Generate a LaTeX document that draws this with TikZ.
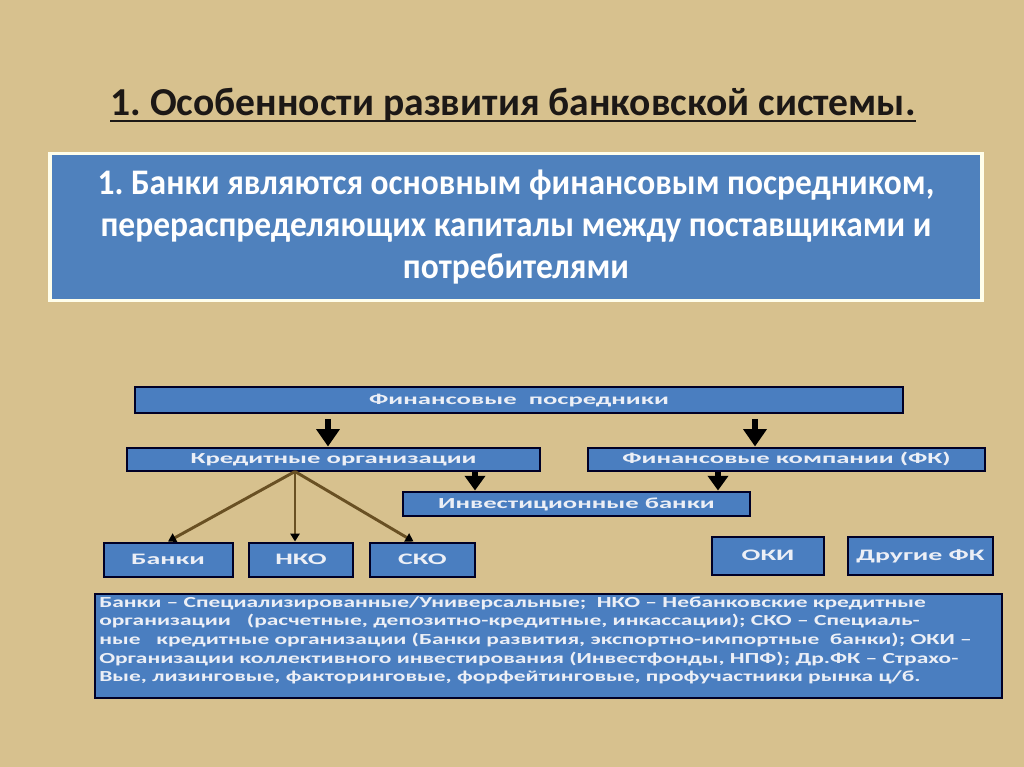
\documentclass[tikz,border=0pt]{standalone}
\usepackage{fontspec}
\setmainfont{Carlito}
\newfontfamily\narrowfont[FakeStretch=0.93]{Carlito}
\newfontfamily\diagfont[FakeStretch=1.74]{Carlito}
\newfontfamily\notefont[FakeStretch=1.53]{Carlito}
\usetikzlibrary{arrows.meta,calc}
\definecolor{bg}{RGB}{215,193,142}
\definecolor{topblue}{RGB}{79,129,189}
\definecolor{dblue}{RGB}{74,126,192}
\definecolor{titlecol}{RGB}{28,24,22}
\definecolor{fanbrown}{RGB}{105,80,35}
\definecolor{ltext}{RGB}{236,239,246}
\newdimen\px \px=0.75pt
\frenchspacing
\begin{document}
\begin{tikzpicture}[x=0.75pt,y=-0.75pt,
  dbox/.style={draw=black!85!blue, fill=dblue, line width=1.5pt, text=ltext,
    inner sep=0pt, text height=0.7em, text depth=0pt,
    font=\diagfont\bfseries\fontsize{11.5}{13}\selectfont},
  sbox/.style={dbox, font=\diagfont\bfseries\fontsize{12}{15}\selectfont},
  bigarrow/.style={draw=black, line width=4.5pt, -{Triangle[width=17pt,length=13pt]}},
  fanarrow/.style={draw=fanbrown, line width=2.2pt, -{Triangle[width=7pt,length=6pt,fill=black,color=black]}}
]
\fill[bg] (0,0) rectangle (1024,767);
\useasboundingbox (0,0) rectangle (1024,767);

% title
\node[font=\bfseries\fontsize{29.7}{34}\selectfont, text=titlecol, anchor=base, inner sep=0pt]
  (title) at (513,115) {1. Особенности развития банковской системы.};
\draw[titlecol, line width=1.6pt] ($(title.base west)+(0,6)$) -- ($(title.base east)+(0,6)$);

% main statement box
\node[fill=topblue, draw=white!92!yellow, line width=2.5pt, minimum width=932\px,
  minimum height=147\px, inner sep=0pt, text=white, align=flush center,
  font=\narrowfont\bfseries\fontsize{27}{31.5}\selectfont] (main) at (516,227)
  {1. Банки являются основным финансовым посредником,\\
   перераспределяющих капиталы между поставщиками и\\
   потребителями};

% diagram boxes
\node[dbox, minimum width=768\px, minimum height=26\px] (fp) at (519,399.5) {Финансовые\ \ посредники};
\node[dbox, minimum width=413\px, minimum height=23\px] (ko) at (333.5,459) {Кредитные организации};
\node[dbox, minimum width=397\px, minimum height=23\px] (fk) at (786.5,459) {Финансовые компании (ФК)};
\node[dbox, minimum width=347\px, minimum height=24\px] (ib) at (576.5,503.5) {Инвестиционные банки};
\node[sbox, minimum width=129\px, minimum height=34\px] (banki) at (168,559.5) {Банки};
\node[sbox, minimum width=104\px, minimum height=34\px] (nko) at (301,559.5) {НКО};
\node[sbox, minimum width=105\px, minimum height=34\px] (sko) at (422.5,559.5) {СКО};
\node[sbox, minimum width=112\px, minimum height=38\px] (oki) at (768,556) {ОКИ};
\node[sbox, minimum width=145\px, minimum height=38\px] (dfk) at (920.5,556) {Другие ФК};

% note box
\node[dbox, minimum width=907\px, minimum height=104\px] (note) at (548.5,646) {};
\node[anchor=north west, inner sep=0pt, text=ltext, align=left,
  font=\notefont\bfseries\fontsize{11.5}{14}\selectfont] (notetext) at (99,596)
  {Банки – Специализированные/Универсальные;\ \ НКО – Небанковские кредитные\\
   организации\ \ \ (расчетные, депозитно-кредитные, инкассации); СКО – Специаль-\\
   ные\ \ \ кредитные организации (Банки развития, экспортно-импортные\ \ банки); ОКИ –\\
   Организации коллективного инвестирования (Инвестфонды, НПФ); Др.ФК – Страхо-\\
   Вые, лизинговые, факторинговые, форфейтинговые, профучастники рынка ц/б.};

% arrows
\coordinate (a1) at (328,0);
\coordinate (a2) at (755,0);
\coordinate (a3) at (475,0);
\coordinate (a4) at (718,0);
\coordinate (fan) at (295,0);
\draw[bigarrow, shorten <=4pt] (fp.south -| a1) -- (ko.north -| a1);
\draw[bigarrow, shorten <=4pt] (fp.south -| a2) -- (fk.north -| a2);
\draw[bigarrow, -{Triangle[width=15pt,length=11pt]}] (ko.south -| a3) -- (ib.north -| a3);
\draw[bigarrow, -{Triangle[width=15pt,length=11pt]}] (fk.south -| a4) -- (ib.north -| a4);

\draw[fanarrow] (ko.south -| fan) -- (banki.north);
\draw[fanarrow] (ko.south -| fan) -- (nko.north -| fan);
\draw[fanarrow] (ko.south -| fan) -- ($(sko.north)+(-9,0)$);
\end{tikzpicture}
\end{document}
